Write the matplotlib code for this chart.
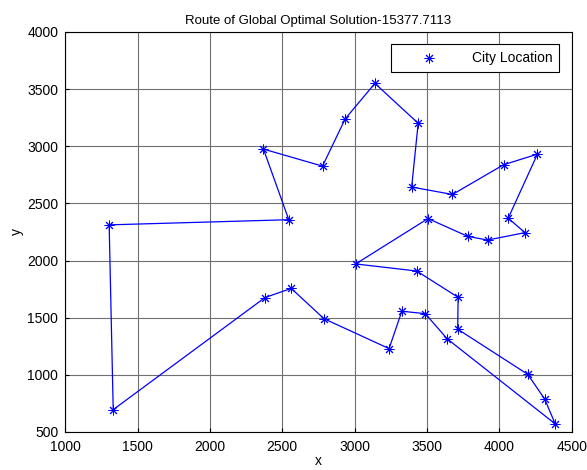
import matplotlib
matplotlib.use('Agg')
import matplotlib.pyplot as plt

# City coordinates in route order (closed tour)
ruta_x = [1304, 2545, 2370, 2778, 2935, 3140, 3439, 3394, 3676, 4029, 4263,
          4061, 4177, 3918, 3780, 3507, 3007, 3429, 3715, 3712, 4196, 4312,
          4386, 3639, 3488, 3326, 3238, 2788, 2562, 2381, 1332]
ruta_y = [2312, 2357, 2975, 2826, 3240, 3550, 3201, 2643, 2578, 2838, 2931,
          2370, 2244, 2179, 2212, 2367, 1970, 1908, 1678, 1399, 1004, 790,
          570, 1315, 1535, 1556, 1229, 1491, 1756, 1676, 695]

titulo = 'Route of Global Optimal Solution-15377.7113'

plt.rcParams['font.family'] = ['Liberation Sans', 'DejaVu Sans']

fig = plt.figure(figsize=(5.87, 4.70), dpi=100, facecolor='white')
ax = fig.add_axes([0.111, 0.081, 0.863, 0.851])

x = ruta_x + [ruta_x[0]]
y = ruta_y + [ruta_y[0]]
ax.plot(x, y, color='blue', linewidth=0.9)
ax.plot(ruta_x, ruta_y, linestyle='none', marker=(8, 2, 0), markersize=7,
        markeredgewidth=0.7, color='blue', label='City Location')

ax.set_xlim(1000, 4500)
ax.set_ylim(500, 4000)
ax.set_xticks(range(1000, 4501, 500))
ax.set_yticks(range(500, 4001, 500))
ax.grid(True, color='#707070', linewidth=0.8)
ax.tick_params(direction='in', labelsize=10, length=3)
ax.tick_params(axis='x', pad=6)
ax.tick_params(axis='y', pad=5)
for s in ax.spines.values():
    s.set_linewidth(0.8)

ax.set_title(titulo, fontsize=9.5)
ax.set_xlabel('x', fontsize=10, labelpad=0)
ax.set_ylabel('y', fontsize=10, labelpad=2)

leg = ax.legend(loc='upper right', fontsize=10, fancybox=False,
                framealpha=1, edgecolor='black', borderaxespad=0.9,
                handlelength=4.5, borderpad=0.5)
leg.get_frame().set_linewidth(0.8)

fig.savefig('out.png', dpi=100)
